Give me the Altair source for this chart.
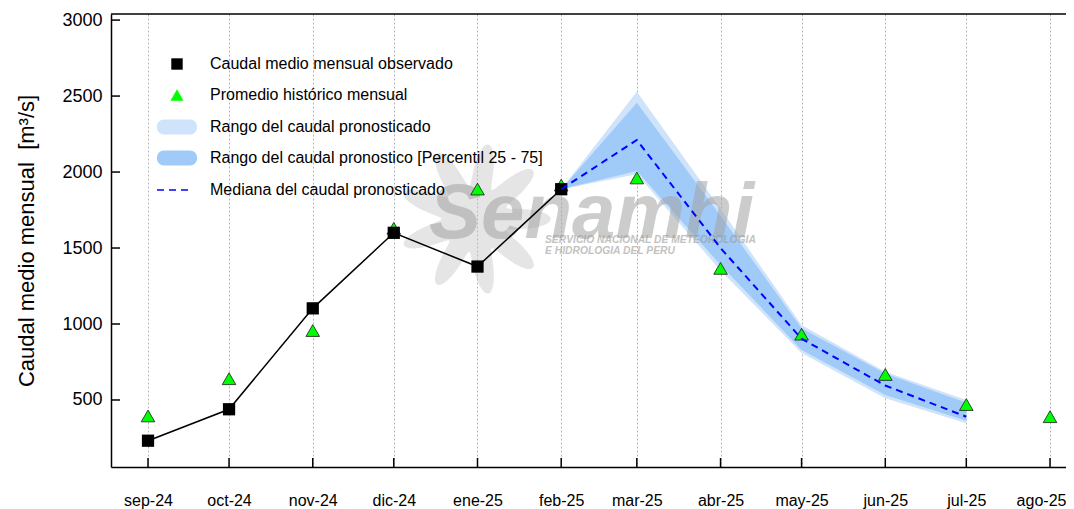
import altair as alt
import pandas as pd
import numpy as np

# ---------------- data ----------------
months = ["2024-09-01", "2024-10-01", "2024-11-01", "2024-12-01", "2025-01-01", "2025-02-01",
          "2025-03-01", "2025-04-01", "2025-05-01", "2025-06-01", "2025-07-01", "2025-08-01"]
month_labels = ["sep-24", "oct-24", "nov-24", "dic-24", "ene-25", "feb-25",
                "mar-25", "abr-25", "may-25", "jun-25", "jul-25", "ago-25"]

obs_dates = months[:6]
obs_values = [232, 439, 1103, 1600, 1378, 1887]

hist_values = [395, 640, 957, 1630, 1888, 1914, 1961, 1366, 933, 668, 470, 390]

fc_dates = months[5:11]
fc_outer_lo = [1887, 1985, 1352, 809, 511, 347]
fc_inner_lo = [1887, 2007, 1388, 829, 533, 364]
fc_median = [1887, 2211, 1500, 903, 595, 390]
fc_inner_hi = [1887, 2456, 1712, 972, 675, 482]
fc_outer_hi = [1887, 2528, 1758, 993, 686, 500]

y_ticks = [500, 1000, 1500, 2000, 2500, 3000]
y_domain = [59, 3040]
x_domain = ["2024-08-18 07:00", "2025-08-06 22:00"]

legend_labels = ["Caudal medio mensual observado",
                 "Promedio histórico mensual",
                 "Rango del caudal pronosticado",
                 "Rango del caudal pronostico [Percentil 25 - 75]",
                 "Mediana del caudal pronosticado"]

y_title = "Caudal medio mensual\u00a0\u00a0[m³/s]"

# ---------------- styling ----------------
W, H = 955, 453
FONT = "Liberation Sans"
OUTER_C = "#cfe4fb"
INNER_C = "#a0cbf8"

to_ms = lambda s: int(pd.Timestamp(s, tz="UTC").value // 10**6)
x_tick_ms = [to_ms(m) for m in months]
x_dom_ms = [to_ms(d) for d in x_domain]

label_arr = "[" + ",".join("'%s'" % l for l in month_labels) + "]"
label_expr = label_arr + "[(utcyear(datum.value)-2024)*12 + utcmonth(datum.value) - 8]"
last_label_offset = {"condition": {"test": "datum.value > %d" % x_tick_ms[-2], "value": -9},
                     "value": 0}

xscale = alt.Scale(type="utc", domain=x_dom_ms)
yscale = alt.Scale(domain=y_domain, nice=False, zero=False)

xaxis = alt.Axis(values=x_tick_ms, labelExpr=label_expr, grid=True, gridDash=[2, 2],
                 gridColor="#b5b5b5", gridWidth=1, ticks=False, tickSize=0,
                 domainColor="black", domainWidth=1.5, labelFontSize=16, labelPadding=25,
                 labelOffset=last_label_offset,
                 labelColor="black", labelOverlap=False, labelFlush=False, title=None)
yaxis = alt.Axis(values=y_ticks, grid=False, ticks=False, tickSize=0, format="d",
                 domainColor="black", domainWidth=1.5, labelFontSize=18, labelPadding=9,
                 labelColor="black", title=y_title, titleFontSize=22, titleFontWeight="normal",
                 titleColor="black", titlePadding=23)


def X(field="date"):
    return alt.X(f"{field}:T", scale=xscale, axis=xaxis)


def Y(field):
    return alt.Y(f"{field}:Q", scale=yscale, axis=yaxis)


one = pd.DataFrame({"k": [0]})

obs_df = pd.DataFrame({"date": obs_dates, "v": obs_values})
hist_df = pd.DataFrame({"date": months, "v": hist_values})
fc_df = pd.DataFrame({"date": fc_dates, "olo": fc_outer_lo, "ilo": fc_inner_lo,
                      "med": fc_median, "ihi": fc_inner_hi, "ohi": fc_outer_hi})
xt_df = pd.DataFrame({"date": months})
yt_df = pd.DataFrame({"v": y_ticks})

layers = []

# bands
layers.append(alt.Chart(fc_df).mark_area(color=OUTER_C, opacity=1).encode(
    x=X(), y=Y("olo"), y2="ohi"))
layers.append(alt.Chart(fc_df).mark_area(color=INNER_C, opacity=1).encode(
    x=X(), y=Y("ilo"), y2="ihi"))

# watermark (logo rosette + text)
theta = np.linspace(0, 2 * np.pi, 181)
r = 0.72 + 0.28 * np.cos(9 * theta)
pts = ["%.3f,%.3f" % (rr * np.cos(t), rr * np.sin(t)) for rr, t in zip(r, theta)]
rosette = "M" + "L".join(pts) + "Z"
layers.append(alt.Chart(one).mark_point(shape=rosette, filled=True, color="#bdbdbd",
                                        opacity=0.4, strokeWidth=0).encode(
    x=alt.value(364), y=alt.value(205), size=alt.value(23000)))
layers.append(alt.Chart(one).mark_text(font=FONT, fontSize=78, fontStyle="italic",
                                       fontWeight="bold", color="#a3a3a3", opacity=0.55,
                                       align="left", baseline="alphabetic").encode(
    x=alt.value(318), y=alt.value(224), text=alt.value("Senamhi")))
layers.append(alt.Chart(one).mark_text(font=FONT, fontSize=10.3, fontStyle="italic",
                                       fontWeight="bold", color="#9a9a9a", opacity=0.6,
                                       align="left", baseline="middle").encode(
    x=alt.value(434), y=alt.value(226), text=alt.value("SERVICIO NACIONAL DE METEOROLOGIA")))
layers.append(alt.Chart(one).mark_text(font=FONT, fontSize=10.3, fontStyle="italic",
                                       fontWeight="bold", color="#9a9a9a", opacity=0.6,
                                       align="left", baseline="middle").encode(
    x=alt.value(434), y=alt.value(237), text=alt.value("E HIDROLOGIA DEL PERU")))

# historical mean triangles
layers.append(alt.Chart(hist_df).mark_point(shape="triangle-up", filled=True, fill="#00ff00",
                                            stroke="#1a1a1a", strokeWidth=0.8, opacity=1,
                                            size=185).encode(x=X(), y=Y("v")))
# observed line + squares
layers.append(alt.Chart(obs_df).mark_line(color="black", strokeWidth=1.5).encode(
    x=X(), y=Y("v")))
layers.append(alt.Chart(obs_df).mark_point(shape="square", filled=True, color="black",
                                           opacity=1, size=150).encode(x=X(), y=Y("v")))
# median
layers.append(alt.Chart(fc_df).mark_line(color="#0000ff", strokeWidth=2,
                                         strokeDash=[7, 5]).encode(x=X(), y=Y("med")))

# inward ticks
layers.append(alt.Chart(yt_df).mark_rule(color="black", strokeWidth=1.5).encode(
    y=Y("v"), x=alt.value(0), x2=alt.value(9)))
layers.append(alt.Chart(xt_df).mark_rule(color="black", strokeWidth=1.5).encode(
    x=X(), y=alt.value(H - 9), y2=alt.value(H)))
# top border
layers.append(alt.Chart(one).mark_rule(color="black", strokeWidth=1.5).encode(
    x=alt.value(0), x2=alt.value(W), y=alt.value(0)))

# manual legend
leg_y = [50, 81, 113, 144, 176]
layers.append(alt.Chart(one).mark_point(shape="square", filled=True, color="black",
                                        opacity=1, size=130).encode(
    x=alt.value(66), y=alt.value(leg_y[0])))
layers.append(alt.Chart(one).mark_point(shape="triangle-up", filled=True, color="#00ff00",
                                        opacity=1, size=170).encode(
    x=alt.value(66), y=alt.value(leg_y[1])))
layers.append(alt.Chart(one).mark_rect(color=OUTER_C, cornerRadius=7).encode(
    x=alt.value(46), x2=alt.value(86), y=alt.value(leg_y[2] - 7.5), y2=alt.value(leg_y[2] + 7.5)))
layers.append(alt.Chart(one).mark_rect(color=INNER_C, cornerRadius=7).encode(
    x=alt.value(46), x2=alt.value(86), y=alt.value(leg_y[3] - 7.5), y2=alt.value(leg_y[3] + 7.5)))
layers.append(alt.Chart(one).mark_rule(color="#0000ff", strokeWidth=1.5, strokeDash=[7, 5]).encode(
    x=alt.value(46), x2=alt.value(82), y=alt.value(leg_y[4])))
for lab, yy in zip(legend_labels, leg_y):
    layers.append(alt.Chart(one).mark_text(font=FONT, fontSize=16, color="black",
                                           align="left", baseline="middle").encode(
        x=alt.value(99), y=alt.value(yy), text=alt.value(lab)))

chart = alt.layer(*layers).properties(
    width=W, height=H,
    padding={"left": 103, "top": 6, "right": 0, "bottom": 42},
    autosize=alt.AutoSizeParams(type="none"),
    background="white",
).configure_view(stroke=None).configure_axis(labelFont=FONT, titleFont=FONT)

chart.save("out.html", embed_options={"renderer": "svg", "actions": False})
